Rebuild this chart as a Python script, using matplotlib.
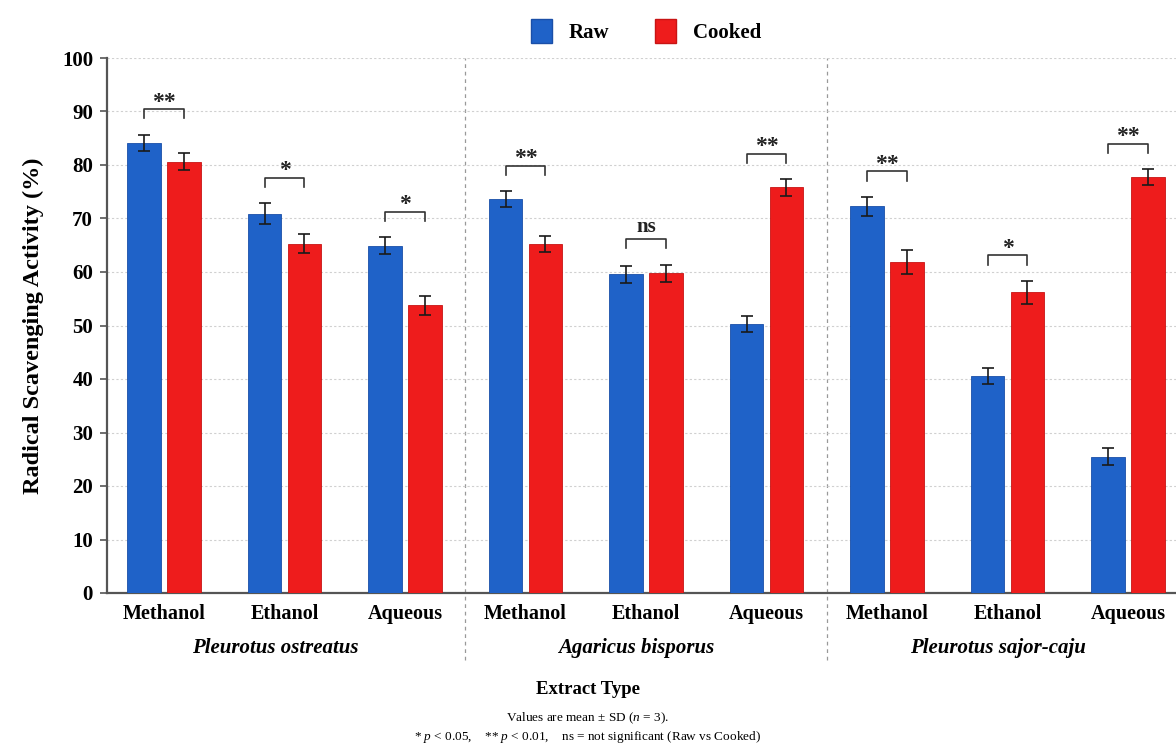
import numpy as np
import matplotlib
matplotlib.use("Agg")
import matplotlib.pyplot as plt
from matplotlib.patches import Patch
import matplotlib.transforms as mtransforms

plt.rcParams['font.family'] = ['Liberation Serif', 'DejaVu Serif']
plt.rcParams['mathtext.fontset'] = 'custom'
plt.rcParams['mathtext.rm'] = 'Liberation Serif'
plt.rcParams['mathtext.it'] = 'Liberation Serif:italic'

# ---- data ----
species = ['Pleurotus ostreatus', 'Agaricus bisporus', 'Pleurotus sajor-caju']
solvents = ['Methanol', 'Ethanol', 'Aqueous']
raw = [84.2, 70.9, 64.9, 73.6, 59.6, 50.3, 72.3, 40.6, 25.5]
cooked = [80.6, 65.3, 53.8, 65.2, 59.8, 75.8, 61.9, 56.2, 77.7]
raw_sd = [1.5, 2.0, 1.6, 1.5, 1.6, 1.5, 1.8, 1.5, 1.6]
cooked_sd = [1.6, 1.8, 1.8, 1.5, 1.6, 1.6, 2.2, 2.2, 1.5]
sig = ['**', '*', '*', '**', 'ns', '**', '**', '*', '**']

blue = '#1f62c8'
red = '#ee1c1c'

fig = plt.figure(figsize=(11.76, 7.51), dpi=100)
ax = fig.add_axes([107/1176, 1-593/751, 1078/1176, 535/751])

n = len(raw)
x = np.arange(n)
w = 0.28
off = 0.165
ekw = dict(ecolor='#1a1a1a', elinewidth=1.2, capsize=4, capthick=1.2)
ax.bar(x - off, raw, w, yerr=raw_sd, color=blue, edgecolor='#1a4fa8', linewidth=0.6,
       error_kw=ekw, zorder=3, label='Raw')
ax.bar(x + off, cooked, w, yerr=cooked_sd, color=red, edgecolor='#c81414', linewidth=0.6,
       error_kw=ekw, zorder=3, label='Cooked')

# significance brackets
for i in range(n):
    top = max(raw[i] + raw_sd[i], cooked[i] + cooked_sd[i])
    base = top + 3.0
    h = 1.7
    ax.plot([i - off, i - off, i + off, i + off], [base, base + h, base + h, base],
            color='#333333', lw=1.2, zorder=4)
    if sig[i] == 'ns':
        ax.text(i, base + h + 0.4, sig[i], ha='center', va='bottom',
                fontsize=15, fontweight='bold', color='#222222')
    else:
        ax.text(i, base + h - 0.6, sig[i], ha='center', va='bottom',
                fontsize=17, fontweight='bold', color='#222222')

ax.set_xlim(-0.473, n - 1 + 0.473)
ax.set_ylim(0, 100)
ax.set_yticks(np.arange(0, 101, 10))
ax.set_xticks(x)
ax.set_xticklabels(solvents * 3, fontsize=14.5, fontweight='bold')
ax.tick_params(axis='x', length=0, pad=8)
ax.tick_params(axis='y', length=5, width=1.2, color='#555555', pad=5, labelsize=15)
for lab in ax.get_yticklabels():
    lab.set_fontweight('bold')

ax.grid(axis='y', color='#d0d0d0', linestyle=(0, (2, 2)), linewidth=0.8, zorder=0)
ax.spines['top'].set_visible(False)
ax.spines['right'].set_visible(False)
ax.spines['left'].set_color('#555555')
ax.spines['left'].set_linewidth(1.6)
ax.spines['bottom'].set_color('#555555')
ax.spines['bottom'].set_linewidth(1.6)

# group separators
for b in [2.5, 5.5]:
    ax.axvline(b, ymin=-0.125, ymax=1.0, color='#999999', linestyle=(0, (3, 3)),
               linewidth=0.9, clip_on=False, zorder=1)

# species labels
trans = mtransforms.blended_transform_factory(ax.transData, ax.transAxes)
for g, sp in enumerate(species):
    ax.text(g * 3 + 1 - 0.08, -(648 - 593) / 535, sp, transform=trans, ha='center', va='center',
            fontsize=15, fontweight='bold', fontstyle='italic')

ax.set_ylabel('Radical Scavenging Activity (%)', fontsize=17.5, fontweight='bold')
ax.yaxis.set_label_coords(-0.058, 0.5)

fig.text(0.5, 1 - 690/751, 'Extract Type', ha='center', va='center',
         fontsize=13.5, fontweight='bold')
fig.text(0.5, 1 - 718/751, r'Values are mean ± SD ($n$ = 3).', ha='center', va='center',
         fontsize=9.5)
fig.text(0.5, 1 - 737/751,
         r'* $p$ < 0.05,    ** $p$ < 0.01,    ns = not significant (Raw vs Cooked)',
         ha='center', va='center', fontsize=9.5)

handles = [Patch(facecolor=blue, edgecolor='#1a4fa8'), Patch(facecolor=red, edgecolor='#c81414')]
fig.legend(handles, ['Raw', 'Cooked'], loc='center',
           bbox_to_anchor=((107 + 1185) / 2 / 1176, 1 - 31/751), ncol=2, frameon=False,
           prop={'weight': 'bold', 'size': 15}, handlelength=1.0, handleheight=1.4,
           columnspacing=2.2, handletextpad=0.8)

fig.savefig('out.png', dpi=100)
